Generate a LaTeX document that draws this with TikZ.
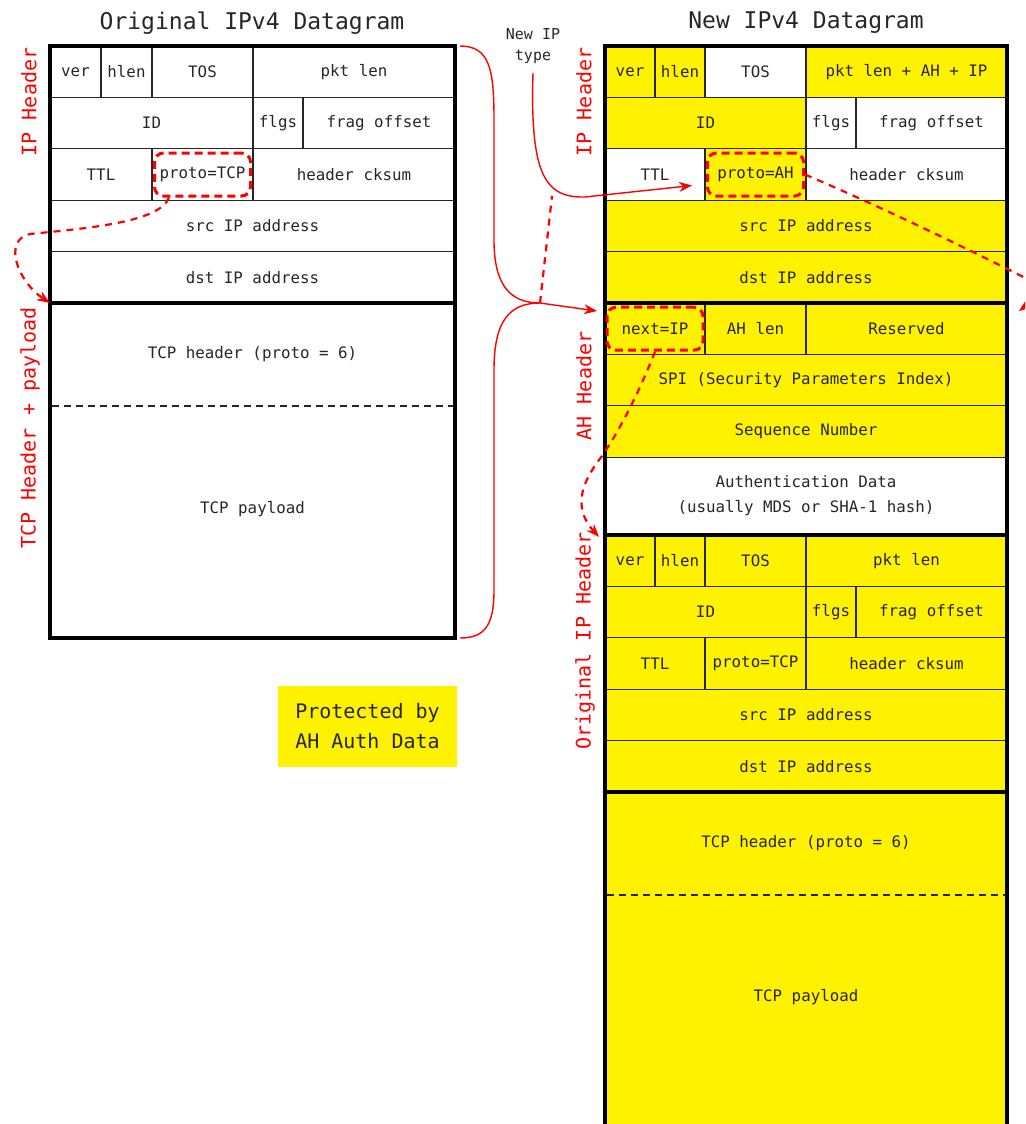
\documentclass[tikz,border=0pt]{standalone}
\usepackage{fontspec}
\setmonofont{DejaVu Sans Mono}
\usetikzlibrary{calc,arrows.meta}

\begin{document}
\begin{tikzpicture}[x=1pt,y=-1pt]
	\tikzset{
		cell/.style={draw=black!85, line width=1.3pt, anchor=north west, inner sep=0pt, outer sep=0pt, minimum height=51.4pt, text=black!85, font=\ttfamily\fontsize{15.8}{25}\selectfont},
		hot/.style={cell, fill=yellow},
		celltext/.style={text=black!85, font=\ttfamily\fontsize{15.8}{25}\selectfont},
		frameline/.style={draw=black, line width=4pt},
		sidelabel/.style={text=red, rotate=90, font=\ttfamily\fontsize{20}{24}\selectfont},
		heading/.style={text=black!85, font=\ttfamily\fontsize{23}{26}\selectfont},
		ring/.style={draw=red, line width=3pt, dash pattern=on 8pt off 5pt, rounded corners=9pt, minimum width=96pt, minimum height=43pt},
		redline/.style={draw=red, line width=1.4pt},
		redarrow/.style={redline, -{Stealth[length=13pt, width=10pt]}},
		reddash/.style={draw=red, line width=2.2pt, dash pattern=on 7pt off 6pt}
	}

	\useasboundingbox (0,0) rectangle (1025,1124);
	\clip (0,0) rectangle (1025,1124);

	% LEFT: ORIGINAL DATAGRAM
	\node[heading] (lTitle) at (252,23) {Original IPv4 Datagram};
	\node[cell, minimum width=51] (lVer) at (50,46) {ver};
	\node[cell, minimum width=51] (lHlen) at (101,46) {hlen};
	\node[cell, minimum width=101] (lTos) at (152,46) {TOS};
	\node[cell, minimum width=202] (lLen) at (253,46) {pkt len};
	\node[cell, minimum width=203] (lId) at (50,97.4) {ID};
	\node[cell, minimum width=50] (lFlg) at (253,97.4) {flgs};
	\node[cell, minimum width=152] (lFrag) at (303,97.4) {frag offset};
	\node[cell, minimum width=102] (lTtl) at (50,148.8) {TTL};
	\node[cell, minimum width=101] (lProto) at (152,148.8) {proto=TCP};
	\node[cell, minimum width=202] (lCk) at (253,148.8) {header cksum};
	\node[cell, minimum width=405] (lSrc) at (50,200.2) {src IP address};
	\node[cell, minimum width=405] (lDst) at (50,251.6) {dst IP address};
	\node[cell, minimum width=405, minimum height=335] (lTcp) at (50,303) {};
	\node[celltext] (lTcpHd) at (252.5,354) {TCP header (proto = 6)};
	\node[celltext] (lPay) at (252.5,509) {TCP payload};
	\draw[black!85, line width=1.8pt, dash pattern=on 7pt off 5pt] (52,406) -- (453,406);
	\draw[frameline] (lVer.north west) rectangle (lTcp.south east);
	\draw[frameline] (lDst.south west) -- (lDst.south east);

	\node[sidelabel] (lblIp) at (29,102) {IP Header};
	\node[sidelabel] (lblTcp) at (30,428) {TCP Header + payload};

	% RIGHT: NEW DATAGRAM
	\node[heading] (nTitle) at (806,23) {New IPv4 Datagram};
	\node[hot, minimum width=50] (nVer) at (605,46) {ver};
	\node[hot, minimum width=50] (nHlen) at (655,46) {hlen};
	\node[cell, minimum width=101] (nTos) at (705,46) {TOS};
	\node[hot, minimum width=201] (nLen) at (806,46) {pkt len + AH + IP};
	\node[hot, minimum width=201] (nId) at (605,97.4) {ID};
	\node[cell, minimum width=50] (nFlg) at (806,97.4) {flgs};
	\node[cell, minimum width=151] (nFrag) at (856,97.4) {frag offset};
	\node[cell, minimum width=100] (nTtl) at (605,148.8) {TTL};
	\node[hot, minimum width=101] (nProto) at (705,148.8) {proto=AH};
	\node[cell, minimum width=201] (nCk) at (806,148.8) {header cksum};
	\node[hot, minimum width=402] (nSrc) at (605,200.2) {src IP address};
	\node[hot, minimum width=402] (nDst) at (605,251.6) {dst IP address};

	% AH header
	\node[hot, minimum width=100] (ahNext) at (605,303) {next=IP};
	\node[hot, minimum width=101] (ahLen) at (705,303) {AH len};
	\node[hot, minimum width=201] (ahRes) at (806,303) {Reserved};
	\node[hot, minimum width=402] (ahSpi) at (605,354.4) {SPI (Security Parameters Index)};
	\node[hot, minimum width=402] (ahSeq) at (605,405.8) {Sequence Number};
	\node[cell, minimum width=402, minimum height=77.8, align=center] (ahAuth) at (605,457.2) {Authentication Data\\(usually MDS or SHA-1 hash)};

	% original IP header, now inside
	\node[hot, minimum width=50] (oVer) at (605,535) {ver};
	\node[hot, minimum width=50] (oHlen) at (655,535) {hlen};
	\node[hot, minimum width=101] (oTos) at (705,535) {TOS};
	\node[hot, minimum width=201] (oLen) at (806,535) {pkt len};
	\node[hot, minimum width=201] (oId) at (605,586.4) {ID};
	\node[hot, minimum width=50] (oFlg) at (806,586.4) {flgs};
	\node[hot, minimum width=151] (oFrag) at (856,586.4) {frag offset};
	\node[hot, minimum width=100] (oTtl) at (605,637.8) {TTL};
	\node[hot, minimum width=101] (oProto) at (705,637.8) {proto=TCP};
	\node[hot, minimum width=201] (oCk) at (806,637.8) {header cksum};
	\node[hot, minimum width=402] (oSrc) at (605,689.2) {src IP address};
	\node[hot, minimum width=402] (oDst) at (605,740.6) {dst IP address};
	\node[hot, minimum width=402, minimum height=345] (oTcp) at (605,792) {};
	\node[celltext] (oTcpHd) at (806,843.5) {TCP header (proto = 6)};
	\node[celltext] (oPay) at (806,997) {TCP payload};
	\draw[black!85, line width=1.8pt, dash pattern=on 7pt off 5pt] (607,895) -- (1005,895);
	\draw[frameline] (nVer.north west) rectangle (oTcp.south east);
	\draw[frameline] (nDst.south west) -- (nDst.south east);
	\draw[frameline] (ahAuth.south west) -- (ahAuth.south east);
	\draw[frameline] (oDst.south west) -- (oDst.south east);

	\node[sidelabel] (lblNewIp) at (584,102) {IP Header};
	\node[sidelabel] (lblAh) at (584,386) {AH Header};
	\node[sidelabel] (lblOrig) at (585,641) {Original IP Header};

	\node[celltext, font=\ttfamily\fontsize{15}{21}\selectfont, align=center] (nType) at (533,46) {New IP\\type};
	\node[fill=yellow, minimum width=179, minimum height=81, align=left, text=black!85, font=\ttfamily\fontsize{20}{30}\selectfont] (prot) at (367.5,726.5) {Protected by\\AH Auth Data};

	% RED MARKS
	\node[ring] (lRing) at (lProto) {};
	\node[ring] (nRing) at (nProto) {};
	\node[ring] (ahRing) at (ahNext) {};

	% proto field moves down to the TCP part
	\draw[reddash, -{Stealth[length=13pt, width=10pt]}] ([xshift=16pt]lRing.south west) .. controls (160,222) and (90,228) .. (30,234) .. controls (2,240) and (18,282) .. (lTcp.north west);

	% new IP type
	\draw[redarrow] ([yshift=-6pt]nType.south) .. controls (530,175) and (545,198) .. (585,197) -- ($(nRing.west)+(-14,11)$);

	% brace over the original datagram
	\coordinate (brTip) at (540,303);
	\draw[redline] ([xshift=5pt]lLen.north east) .. controls (490,46) and (494,70) .. (494,120) -- (494,240) .. controls (494,285) and (510,303) .. (brTip) .. controls (510,303) and (494,320) .. (494,370) -- (494,590) .. controls (494,625) and (485,638) .. ([xshift=5pt]lTcp.south east);
	\draw[redarrow] (brTip) -- ($(ahNext.north west)+(-8,8)$);
	\draw[reddash] (brTip) -- (552,196);

	% proto=AH points to the AH header
	\draw[reddash, -{Stealth[length=13pt, width=10pt]}] (nRing.east) .. controls (900,215) and (1000,265) .. (1045,288) .. controls (1062,297) and (1035,299) .. (1019,311);

	% next=IP points to the inner IP header
	\draw[reddash, -{Stealth[length=13pt, width=10pt]}] (ahRing.south) .. controls (640,390) and (620,430) .. (602,456) .. controls (585,478) and (570,505) .. ($(oVer.north west)+(-6,2)$);
\end{tikzpicture}
\end{document}
